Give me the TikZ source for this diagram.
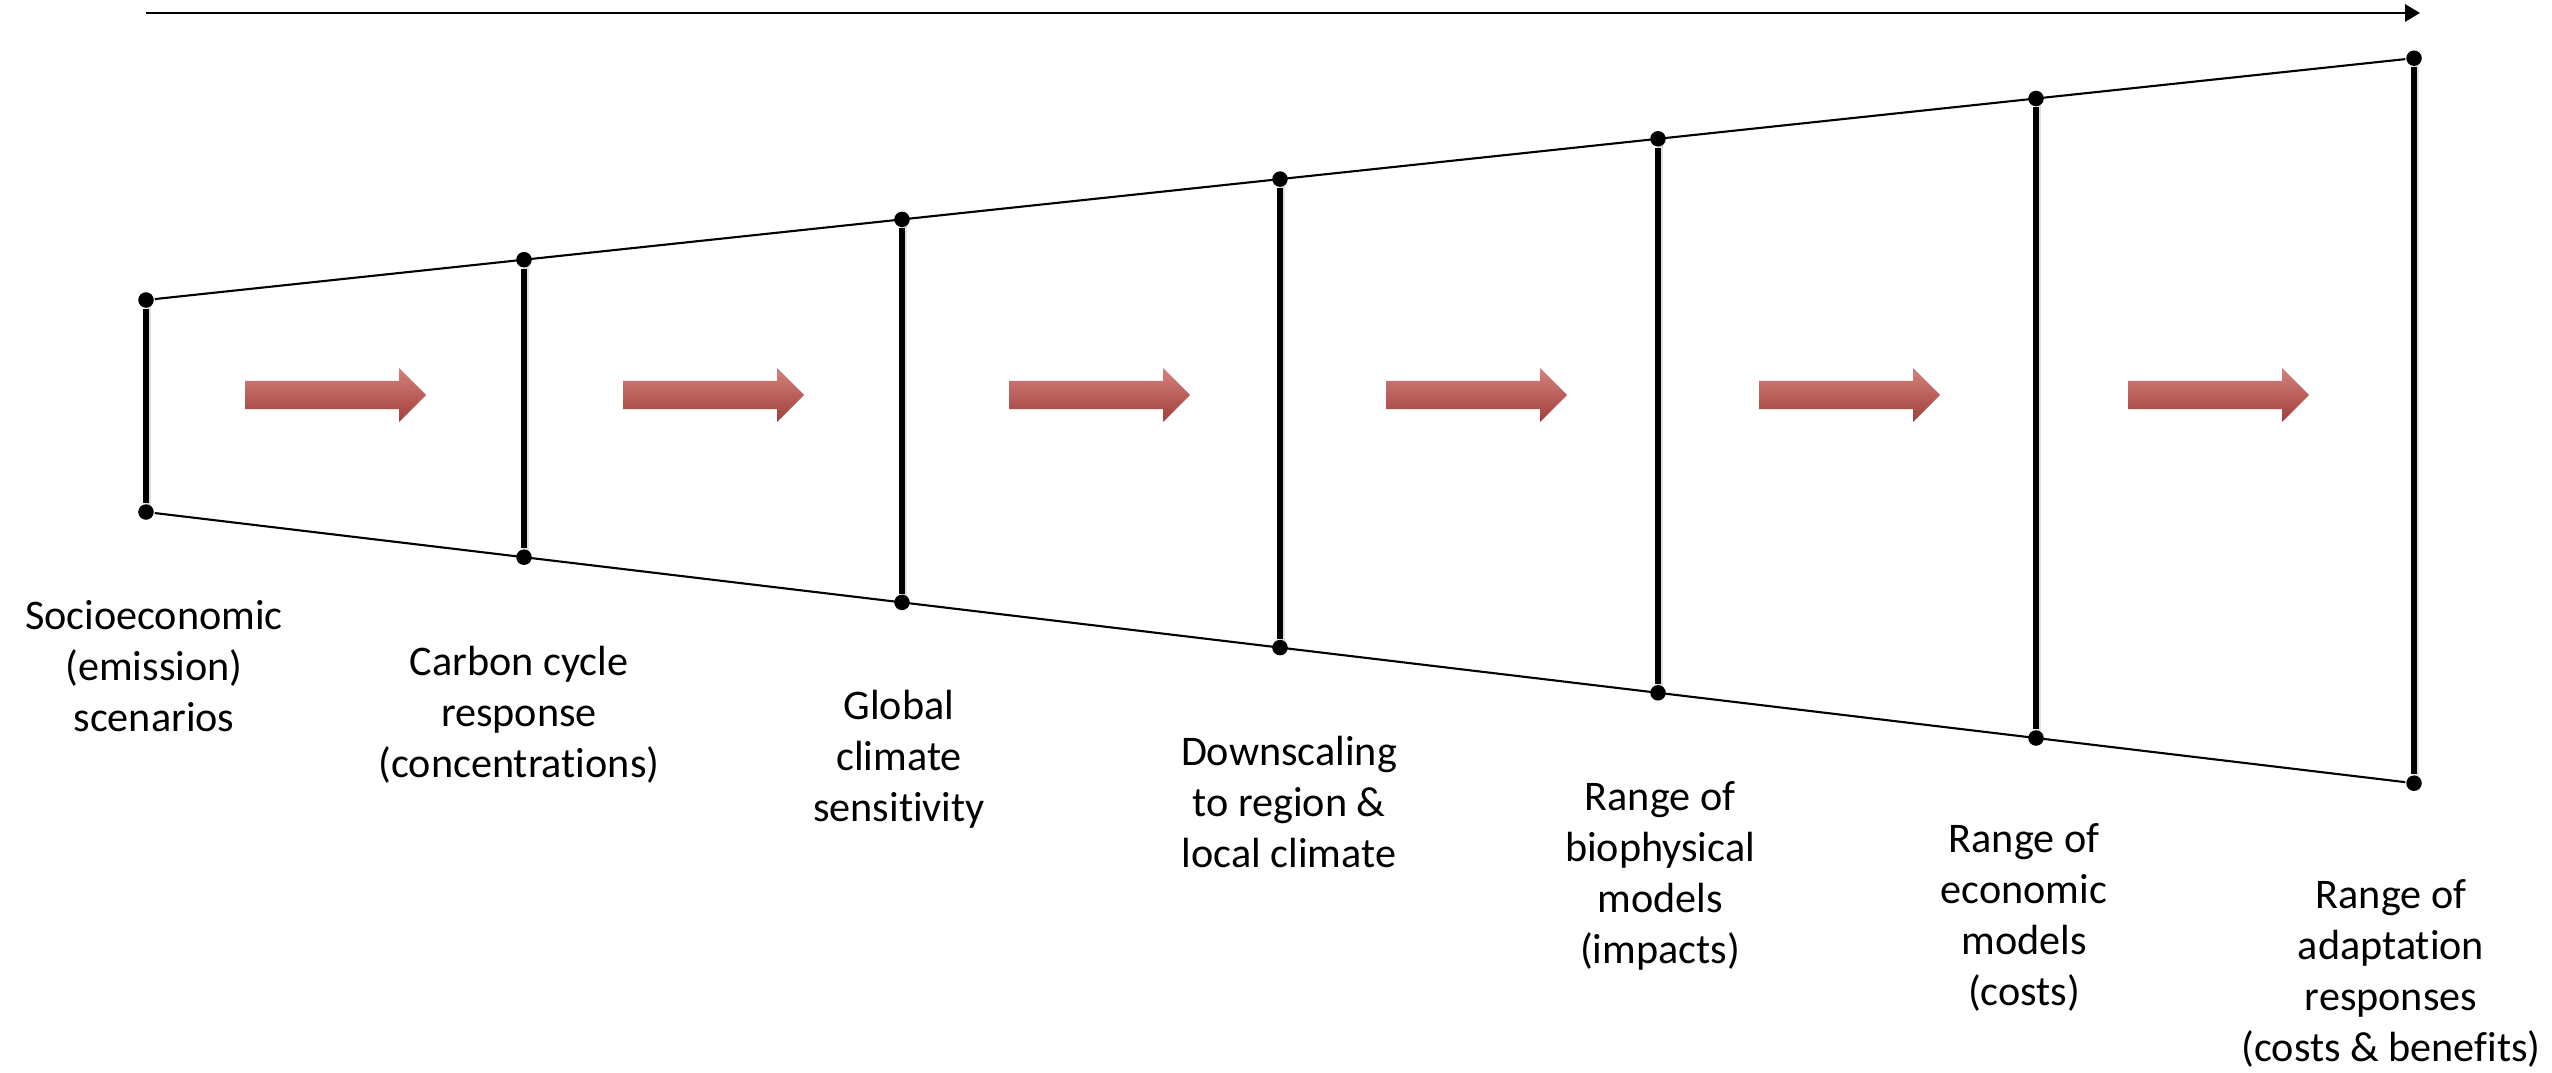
\documentclass[tikz,border=0pt]{standalone}
\usepackage{fontspec}
\setmainfont{Carlito}[Ligatures=NoCommon]
\usetikzlibrary{arrows.meta, shapes.arrows, backgrounds}
\definecolor{redtop}{HTML}{D4827D}
\definecolor{redmid}{HTML}{C0504D}
\definecolor{redbot}{HTML}{A13E3B}
\tikzset{
  every picture/.style={line width=0.6pt},
  dot/.style={circle, fill=black, inner sep=0pt, minimum size=0.155cm},
  bar/.style={line width=1.5pt},
  barshadow/.style={line width=1.8pt, draw=black!12},
  rim/.style={line width=0.6pt},
  timeline/.style={-{Triangle[length=0.15cm, width=0.17cm]}, line width=0.85pt},
  flow/.style={single arrow, single arrow head extend=0.13cm, single arrow head indent=0pt,
    minimum height=1.81cm, text height=0.13cm, text depth=0.13cm, inner sep=0pt, anchor=west,
    top color=redtop, middle color=redmid, bottom color=redbot},
  stage/.style={align=center, anchor=base, font=\fontsize{12}{14.5}\selectfont},
}

\begin{document}
\begin{tikzpicture}[x=0.01cm, y=-0.01cm]
  \useasboundingbox (0,0) rectangle (2552,1073);
  % time axis along the top
  \coordinate (ax0) at (146,13);
  \coordinate (ax1) at (2420,13);
  \draw[timeline] (ax0) -- (ax1);
  % one bar per stage, the range widening to the right
  \foreach \i in {0,...,6} {
    \node[dot] (top\i) at (146+378*\i, 300-40.3*\i) {};
    \node[dot] (bot\i) at (146+378*\i, 512+45.2*\i) {};
    \draw[bar] (top\i) -- (bot\i);
    \begin{scope}[on background layer]
      \draw[barshadow] ([shift={(2,2)}]top\i.center) -- ([shift={(2,2)}]bot\i.center);
    \end{scope}
  }
  \draw[rim] (top0) \foreach \i in {1,...,6} { -- (top\i) };
  \draw[rim] (bot0) \foreach \i in {1,...,6} { -- (bot\i) };
  % block arrows between the bars
  \foreach \x [count=\k] in {244,622,1008,1385,1758,2127}
    \node[flow] (flow\k) at (\x,395) {};
  % stage labels (placed at the baseline of their last line)
  \node[stage] (lab0) at (154,731) {Socioeconomic\\(emission)\\scenarios};
  \node[stage] (lab1) at (519,777) {Carbon cycle\\response\\(concentrations)};
  \node[stage] (lab2) at (899,821) {Global\\climate\\sensitivity};
  \node[stage] (lab3) at (1289,867) {Downscaling\\to region \&\\local climate};
  \node[stage] (lab4) at (1660,963) {Range of\\biophysical\\models\\(impacts)};
  \node[stage] (lab5) at (2024,1005) {Range of\\economic\\models\\(costs)};
  \node[stage] (lab6) at (2391,1061) {Range of\\adaptation\\responses\\(costs \& benefits)};
\end{tikzpicture}
\end{document}
